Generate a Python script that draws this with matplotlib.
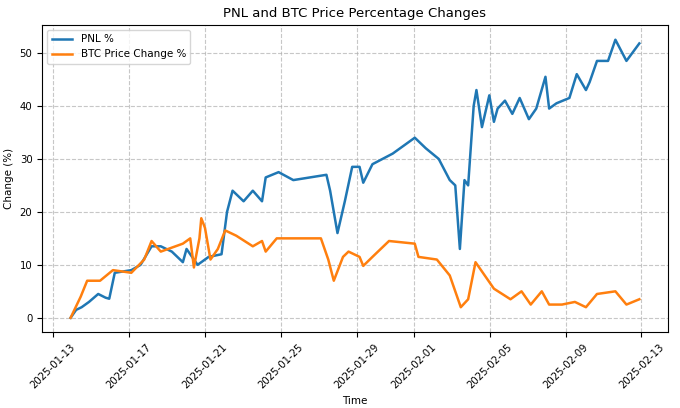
import matplotlib
matplotlib.use("Agg")
import matplotlib.pyplot as plt
import matplotlib.dates as mdates
import pandas as pd

start = pd.Timestamp("2025-01-13 22:00")
pnl_days = [0,0.3,0.6,1.0,1.5,1.9,2.1,2.4,3.3,3.8,4.4,4.9,5.5,6.1,6.3,6.9,7.5,8.2,8.5,8.8,9.4,9.9,10.4,10.6,11.3,12.1,13.0,13.9,14.1,14.5,14.9,15.3,15.7,15.9,16.4,17.5,18.7,19.3,20.0,20.6,20.9,21.15,21.4,21.6,21.9,22.05,22.35,22.75,23.0,23.2,23.6,24.0,24.4,24.9,25.3,25.8,26.0,26.4,27.1,27.5,28.0,28.2,28.6,29.2,29.6,30.2,30.9]
pnl_vals = [0,1.5,2,3,4.5,3.8,3.6,8.5,9,10,13.5,13.5,12.5,10.5,13,10,11.5,12,20,24,22,24,22,26.5,27.5,26,26.5,27,24,16,22,28.5,28.5,25.5,29,31,34,32,30,26,25,13,26,25,40,43,36,42,37,39.5,41,38.5,41.5,37.5,39.5,45.5,39.5,40.5,41.5,46,43,44.5,48.5,48.5,52.5,48.5,51.8]
btc_days = [0,0.55,0.9,1.6,2.3,3.3,4.0,4.4,4.9,6.1,6.5,6.7,7.0,7.1,7.3,7.6,8.0,8.4,9.0,9.9,10.4,10.6,11.2,11.8,13.6,14.0,14.3,14.8,15.1,15.7,15.9,16.4,17.3,18.7,18.9,19.9,20.6,21.2,21.6,22.0,22.5,23.0,23.9,24.5,25.0,25.6,26.0,26.7,27.4,28.0,28.6,29.6,30.2,30.9]
btc_vals = [0,4,7,7,9,8.5,11,14.5,12.5,14,15,9.5,15,18.8,17,11,13,16.5,15.5,13.5,14.5,12.5,15,15,15,11,7,11.5,12.5,11.5,9.8,11.5,14.5,14,11.5,11,8,2,3.5,10.5,8,5.5,3.5,5,2.5,5,2.5,2.5,3,2,4.5,5,2.5,3.5]
tick_dates = ["2025-01-13","2025-01-17","2025-01-21","2025-01-25","2025-01-29","2025-02-01","2025-02-05","2025-02-09","2025-02-13"]

# image-measured offsets were in a slightly different scale; convert
pt = [start + pd.Timedelta(days=d * 0.97) for d in pnl_days]
bt = [start + pd.Timedelta(days=d * 0.97) for d in btc_days]

fig, ax = plt.subplots(figsize=(6.8, 4.08), dpi=100)
ax.plot(pt, pnl_vals, color="#1f77b4", lw=1.8, label="PNL %")
ax.plot(bt, btc_vals, color="#ff7f0e", lw=1.8, label="BTC Price Change %")
ax.set_title("PNL and BTC Price Percentage Changes", fontsize=9.5)
ax.set_xlabel("Time", fontsize=7.5)
ax.set_ylabel("Change (%)", fontsize=7.5)
ax.set_xticks([pd.Timestamp(s) for s in tick_dates])
ax.xaxis.set_major_formatter(mdates.DateFormatter("%Y-%m-%d"))
ax.tick_params(labelsize=7.3)
plt.setp(ax.get_xticklabels(), rotation=45)
ax.grid(True, linestyle="--", alpha=0.7)
ax.set_ylim(-2.7, 55.3)
ax.legend(loc="upper left", fontsize=7.5)
fig.subplots_adjust(left=0.062, right=0.982, top=0.939, bottom=0.186)
fig.savefig("out.png")
